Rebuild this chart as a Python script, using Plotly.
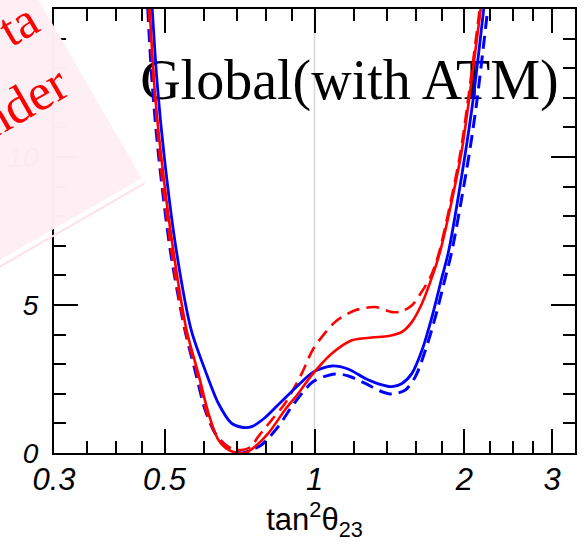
import math
import plotly.graph_objects as go

# ---------------- data ----------------
red_solid_x = [0.4670, 0.4768, 0.4925, 0.5207, 0.5538, 0.5844, 0.6124, 0.6412, 0.6715, 0.7033,
               0.7257, 0.7602, 0.8083, 0.8730, 0.9286, 0.9875, 1.0834, 1.1885, 1.3040, 1.4089,
               1.4983, 1.5691, 1.6433, 1.7212, 1.7895, 1.9651, 2.0396, 2.1559]
red_solid_y = [15.0, 12.45, 10.0, 6.84, 4.14, 2.69, 1.35, 0.45, 0.11, 0.0,
               0.0, 0.22, 0.67, 1.46, 2.02, 2.63, 3.36, 3.81, 3.90, 3.95,
               4.09, 4.43, 5.05, 5.94, 6.84, 10.0, 11.85, 15.0]

red_dash_x = [0.4648, 0.4891, 0.5159, 0.5504, 0.5791, 0.6067, 0.6355, 0.6653, 0.6904, 0.7132,
              0.7437, 0.7717, 0.8208, 0.8730, 0.9430, 0.9954, 1.1005, 1.2074, 1.3247, 1.4306,
              1.4983, 1.5691, 1.6313, 1.7085, 1.7755, 1.9561, 2.0302, 2.1460]
red_dash_y = [15.0, 10.0, 6.84, 4.14, 2.8, 1.4, 0.6, 0.25, 0.12, 0.1,
              0.2, 0.56, 1.12, 1.68, 2.69, 3.53, 4.43, 4.82, 4.93, 4.76,
              4.79, 4.99, 5.38, 5.94, 6.73, 10.0, 11.85, 15.0]

blue_solid_x = [0.4724, 0.4835, 0.4994, 0.5280, 0.5659, 0.6031, 0.6412, 0.6809, 0.7142, 0.7482,
                0.7962, 0.8595, 0.9286, 0.9954, 1.0834, 1.1706, 1.2647, 1.3658, 1.4306, 1.4983,
                1.5691, 1.6433, 1.7212, 1.8028, 1.8599, 2.0021, 2.0779, 2.1862]
blue_solid_y = [15.0, 12.45, 10.0, 6.84, 4.14, 2.8, 1.68, 1.01, 0.87, 0.89,
                1.2, 1.75, 2.3, 2.74, 2.94, 2.83, 2.52, 2.30, 2.24, 2.35,
                2.69, 3.47, 4.6, 5.94, 6.84, 10.0, 11.85, 15.0]

blue_dash_x = [0.4627, 0.4724, 0.4868, 0.5135, 0.5496, 0.5756, 0.6031, 0.6317, 0.6613, 0.6927,
               0.7142, 0.7482, 0.7836, 0.8465, 0.9075, 0.9954, 1.1005, 1.1706, 1.2647, 1.3658,
               1.4306, 1.5217, 1.5940, 1.6696, 1.7485, 1.8317, 1.8880, 2.0396, 2.1165, 2.2270]
blue_dash_y = [15.0, 12.45, 10.0, 6.84, 4.14, 2.8, 1.46, 0.67, 0.28, 0.05,
               0.0, 0.11, 0.28, 0.9, 1.65, 2.42, 2.67, 2.6, 2.35, 2.07,
               1.99, 2.13, 2.58, 3.47, 4.6, 5.94, 6.84, 10.0, 11.85, 15.0]

x_tickvals = [0.3, 0.5, 1, 2, 3]
x_ticktext = ["0.3", "0.5", "1", "2", "3"]
x_minor = [0.35, 0.4, 0.45, 0.6, 0.7, 0.8, 0.9, 1.2, 1.4, 1.6, 1.8, 2.25, 2.5, 2.75]
y_tickvals = [0, 5, 10, 15]
y_minor = [1, 2, 3, 4, 6, 7, 8, 9, 11, 12, 13, 14]
x_range = [0.3, 1 / 0.3]
y_range = [0, 15]

label_text = "Global(with ATM)"
label_pos = (1.175, 12.42)
x_title = "tan<sup>2</sup>θ<sub>23</sub>"
watermark_1 = "ta"
watermark_2 = "nder"

# ---------------- figure ----------------
W, H = 584, 551
ML, MR, MT, MB = 54, 8, 7, 98
PW, PH = W - ML - MR, H - MT - MB


def paper(px, py):
    return (px - ML) / PW, (H - MB - py) / PH


fig = go.Figure()

fig.add_trace(go.Scatter(x=[label_pos[0]], y=[label_pos[1]], mode="text", text=[label_text],
                         textposition="middle center",
                         textfont=dict(family="Liberation Serif", size=56, color="black"),
                         hoverinfo="skip", showlegend=False))

dash = "13px,7px"
fig.add_trace(go.Scatter(x=blue_dash_x, y=blue_dash_y, mode="lines",
                         line=dict(color="#0000ff", width=3, dash=dash, shape="spline", smoothing=0.8),
                         showlegend=False))
fig.add_trace(go.Scatter(x=red_dash_x, y=red_dash_y, mode="lines",
                         line=dict(color="#ff0000", width=2.6, dash=dash, shape="spline", smoothing=0.8),
                         showlegend=False))
fig.add_trace(go.Scatter(x=blue_solid_x, y=blue_solid_y, mode="lines",
                         line=dict(color="#0000ff", width=2.8, shape="spline", smoothing=0.8),
                         showlegend=False))
fig.add_trace(go.Scatter(x=red_solid_x, y=red_solid_y, mode="lines",
                         line=dict(color="#ff0000", width=2.6, shape="spline", smoothing=0.8),
                         showlegend=False))

# vertical reference line at tan^2 = 1
fig.add_shape(type="line", xref="x", yref="paper", x0=1, x1=1, y0=0, y1=1,
              line=dict(color="#d8d8d8", width=1.5), layer="below")

# watermark (pink rotated sheet)
C = (142, 177)
pts = [C, (-8, -82.8), (-267.8, 67.2), (-117.8, 327)]
pp = [paper(*p) for p in pts]
path = "M " + " L ".join(f"{a:.4f},{b:.4f}" for a, b in pp) + " Z"
fig.add_shape(type="path", xref="paper", yref="paper", path=path,
              fillcolor="rgb(253,239,243)", opacity=0.985, line=dict(width=0), layer="above")
a0 = paper(145, 182)
a1 = paper(-115, 332)
fig.add_shape(type="line", xref="paper", yref="paper", x0=a0[0], y0=a0[1], x1=a1[0], y1=a1[1],
              line=dict(color="rgb(250,226,233)", width=2), layer="above")

for txt, (cx, cy), sz in [(watermark_1, (18, 22), 50), (watermark_2, (23, 100), 52)]:
    px_, py_ = paper(cx, cy)
    fig.add_annotation(x=px_, y=py_, xref="paper", yref="paper", text=txt, showarrow=False,
                       textangle=-30, xanchor="center", yanchor="middle",
                       font=dict(family="Liberation Serif", size=sz, color="#ff0000"))

axis_common = dict(showline=True, linecolor="black", linewidth=2, mirror="ticks",
                   ticks="inside", ticklen=24, tickwidth=1.6, tickcolor="black",
                   showgrid=False, zeroline=False)

fig.update_xaxes(type="log", range=[math.log10(x_range[0]), math.log10(x_range[1])],
                 tickvals=x_tickvals, ticktext=x_ticktext,
                 tickfont=dict(family="Liberation Sans", size=31, color="black", style="italic"),
                 minor=dict(tickvals=x_minor, ticklen=12, tickwidth=1.6, tickcolor="black", ticks="inside"),
                 title=dict(text=x_title, font=dict(family="Liberation Sans", size=31, color="black"),
                            standoff=6),
                 ticklabelstandoff=-2,
                 **axis_common)
fig.update_yaxes(range=y_range, tickvals=y_tickvals,
                 tickfont=dict(family="Liberation Sans", size=28, color="black", style="italic"),
                 minor=dict(tickvals=y_minor, ticklen=12, tickwidth=1.6, tickcolor="black", ticks="inside"),
                 ticklabelstandoff=8,
                 **axis_common)

fig.update_layout(width=W, height=H, margin=dict(l=ML, r=MR, t=MT, b=MB),
                  paper_bgcolor="white", plot_bgcolor="white", showlegend=False)

fig.write_html("out.html")
